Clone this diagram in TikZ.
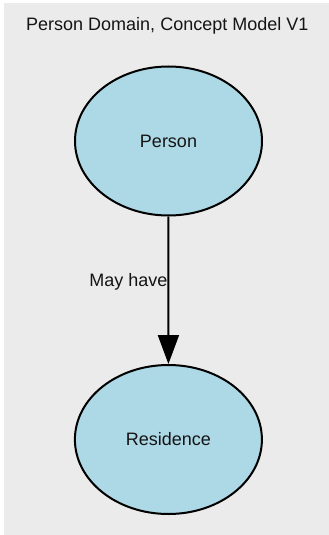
\documentclass[tikz,border=0pt]{standalone}
\usepackage{fontspec}
\setmainfont{Liberation Sans}
\usetikzlibrary{arrows.meta,shapes.geometric}
\definecolor{bggray}{RGB}{235,235,235}
\definecolor{nodeblue}{RGB}{173,216,230}
\definecolor{txt}{RGB}{20,20,20}
\tikzset{
  entity/.style={ellipse, draw=black, line width=2pt, fill=nodeblue,
    minimum width=187pt, minimum height=149pt, inner sep=0pt,
    font=\fontsize{18}{21}\selectfont, text=txt},
  lbl/.style={inner sep=0pt, font=\fontsize{18}{21}\selectfont, text=txt},
  rel/.style={line width=2pt, -{Triangle[width=21pt,length=29pt]}}
}
\begin{document}
\begin{tikzpicture}[x=1pt,y=-1pt]
\useasboundingbox (0,0) rectangle (329,535);
\fill[white] (0,0) rectangle (329,535);
\fill[bggray] (4,3) rectangle (329,535);
\node[lbl, anchor=base] (title) at (167.3,30.7) {Person Domain, Concept Model V1};
\node[entity] (person) at (168.5,141) {Person};
\node[entity] (residence) at (168.4,439.5) {Residence};
\draw[rel] (person) -- (residence);
\node[lbl, anchor=base east] (may) at (167.5,286) {May have};
\end{tikzpicture}
\end{document}
